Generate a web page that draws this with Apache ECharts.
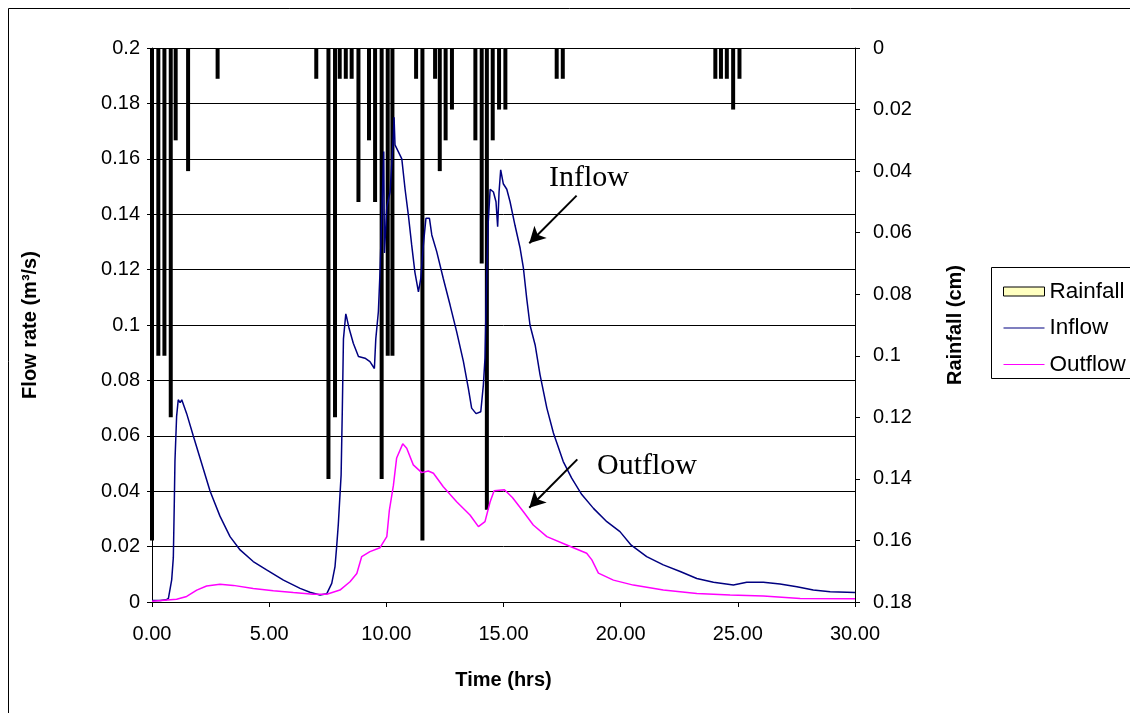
<!DOCTYPE html>
<html>
<head>
<meta charset="utf-8">
<script src="https://cdn.jsdelivr.net/npm/echarts@6/dist/echarts.min.js"></script>
<style>
html,body{margin:0;padding:0;background:#fff;}
#chart{width:1130px;height:713px;}
</style>
</head>
<body>
<div id="chart"></div>
<script>
// ---- Data ----
var rainTime  = [0.0, 0.27, 0.53, 0.80, 1.01, 1.54, 2.80, 7.01, 7.53, 7.81, 8.01, 8.27, 8.52, 8.81, 9.26, 9.52, 9.80, 10.06, 10.26, 11.27, 11.54, 12.08, 12.28, 12.53, 12.80, 13.80, 14.07, 14.29, 14.54, 14.81, 15.08, 17.27, 17.53, 24.04, 24.28, 24.53, 24.80, 25.07];
var rainDepth = [0.16, 0.10, 0.10, 0.12, 0.03, 0.04, 0.01, 0.01, 0.14, 0.12, 0.01, 0.01, 0.01, 0.05, 0.03, 0.05, 0.14, 0.10, 0.10, 0.01, 0.16, 0.01, 0.04, 0.03, 0.02, 0.03, 0.07, 0.15, 0.03, 0.02, 0.02, 0.01, 0.01, 0.01, 0.01, 0.01, 0.02, 0.01];

var inflowTime = [0.00, 0.35, 0.60, 0.70, 0.84, 0.91, 0.95, 0.98, 1.05, 1.12, 1.20, 1.27, 1.48, 1.76, 2.12, 2.48, 2.90, 3.33, 3.76, 4.32, 4.89, 5.61, 6.32, 6.74, 7.17, 7.46, 7.67, 7.81, 7.88, 7.95, 8.07, 8.12, 8.17, 8.27, 8.30, 8.41, 8.59, 8.81, 9.09, 9.30, 9.49, 9.55, 9.66, 9.73, 9.80, 9.89, 9.92, 10.02, 10.16, 10.30, 10.33, 10.37, 10.51, 10.66, 10.80, 10.94, 11.08, 11.22, 11.37, 11.47, 11.58, 11.69, 11.84, 11.94, 12.15, 12.43, 12.72, 13.00, 13.29, 13.50, 13.64, 13.83, 14.03, 14.14, 14.21, 14.28, 14.35, 14.43, 14.57, 14.68, 14.75, 14.81, 14.88, 14.99, 15.14, 15.28, 15.49, 15.71, 15.85, 15.99, 16.13, 16.35, 16.56, 16.85, 17.13, 17.55, 17.91, 18.34, 18.84, 19.41, 19.97, 20.45, 21.11, 21.82, 22.54, 23.25, 23.96, 24.81, 25.38, 26.09, 26.80, 27.52, 28.22, 28.94, 30.00];
var inflowQ = [0.0005, 0.0005, 0.0008, 0.0013, 0.008, 0.016, 0.035, 0.051, 0.067, 0.073, 0.072, 0.073, 0.068, 0.060, 0.050, 0.040, 0.031, 0.0236, 0.0188, 0.0146, 0.0116, 0.0079, 0.0049, 0.0035, 0.0025, 0.003, 0.0067, 0.0128, 0.020, 0.028, 0.0458, 0.0687, 0.095, 0.104, 0.103, 0.0988, 0.0934, 0.0886, 0.088, 0.0868, 0.0843, 0.095, 0.1048, 0.119, 0.1385, 0.1626, 0.126, 0.1426, 0.148, 0.168, 0.175, 0.165, 0.1626, 0.160, 0.149, 0.1397, 0.129, 0.119, 0.112, 0.1168, 0.129, 0.1385, 0.1385, 0.1325, 0.1265, 0.1168, 0.1072, 0.0976, 0.0868, 0.0771, 0.070, 0.068, 0.0687, 0.0783, 0.088, 0.1168, 0.1373, 0.149, 0.148, 0.1445, 0.1355, 0.148, 0.156, 0.151, 0.149, 0.1445, 0.136, 0.1277, 0.1205, 0.1096, 0.100, 0.0928, 0.082, 0.070, 0.061, 0.0507, 0.0447, 0.0388, 0.0338, 0.029, 0.0254, 0.0205, 0.0164, 0.0134, 0.011, 0.0085, 0.0071, 0.0061, 0.0071, 0.0071, 0.0065, 0.0055, 0.0043, 0.0037, 0.0034];

var outflowTime = [0.00, 1.05, 1.48, 1.91, 2.33, 2.90, 3.47, 4.32, 5.18, 6.03, 6.88, 7.46, 8.02, 8.45, 8.74, 8.95, 9.30, 9.73, 10.02, 10.13, 10.30, 10.44, 10.70, 10.87, 11.15, 11.51, 11.79, 12.01, 12.43, 13.00, 13.57, 13.93, 14.21, 14.43, 14.60, 15.04, 15.38, 15.85, 16.27, 16.85, 17.70, 18.55, 18.77, 19.05, 19.69, 20.54, 21.82, 23.25, 24.67, 26.09, 27.66, 30.00];
var outflowQ = [0.0003, 0.001, 0.002, 0.0043, 0.0058, 0.0064, 0.006, 0.0049, 0.0041, 0.0034, 0.0028, 0.0028, 0.0043, 0.0073, 0.0103, 0.0164, 0.0182, 0.0196, 0.0236, 0.0332, 0.042, 0.052, 0.0571, 0.0555, 0.0495, 0.0467, 0.0473, 0.0465, 0.0416, 0.0362, 0.0314, 0.0272, 0.029, 0.0362, 0.0402, 0.0405, 0.0377, 0.0326, 0.0278, 0.0236, 0.0206, 0.0176, 0.0152, 0.0104, 0.0079, 0.0061, 0.0043, 0.0031, 0.0025, 0.0022, 0.0013, 0.0012];

var xTickLabels = ['0.00', '5.00', '10.00', '15.00', '20.00', '25.00', '30.00'];
var leftTickLabels = ['0', '0.02', '0.04', '0.06', '0.08', '0.1', '0.12', '0.14', '0.16', '0.18', '0.2'];
var rightTickLabels = ['0', '0.02', '0.04', '0.06', '0.08', '0.1', '0.12', '0.14', '0.16', '0.18'];

// annotation anchors in data coordinates (time, flow)
var inflowArrow = [[18.12, 0.1467], [16.10, 0.1295]];
var outflowArrow = [[18.15, 0.0515], [16.10, 0.0340]];
var inflowLabelPos = [16.94, 0.1530];
var outflowLabelPos = [18.99, 0.0490];

function zip(a, b) { return a.map(function (v, i) { return [v, b[i]]; }); }

var FONT = 'Liberation Sans, Arial, sans-serif';
var chart = echarts.init(document.getElementById('chart'), null, {renderer: 'canvas'});

var option = {
  animation: false,
  backgroundColor: '#fff',
  grid: {left: 152, right: 275, top: 48, bottom: 111, containLabel: false},
  legend: {
    orient: 'vertical',
    left: 1003, top: 279.5, padding: 0,
    itemWidth: 41, itemHeight: 9, itemGap: 12.5,
    textStyle: {fontFamily: FONT, fontSize: 22.5, color: '#000', lineHeight: 24},
    data: [
      {name: 'Rainfall', icon: 'rect', itemStyle: {color: '#ffffc0', borderColor: '#000', borderWidth: 1}},
      {name: 'Inflow', icon: 'path://M0,0 L41,0 L41,1 L0,1 Z', itemStyle: {color: '#000080'}},
      {name: 'Outflow', icon: 'path://M0,0 L41,0 L41,1 L0,1 Z', itemStyle: {color: '#ff00ff'}}
    ]
  },
  xAxis: {
    type: 'value', min: 0, max: 30, interval: 5,
    name: 'Time (hrs)', nameLocation: 'middle', nameGap: 68,
    nameTextStyle: {fontFamily: FONT, fontSize: 20, fontWeight: 'bold', color: '#000'},
    axisLine: {show: true, onZero: false, lineStyle: {color: '#000', width: 1}},
    axisTick: {show: true, length: 5, lineStyle: {color: '#000'}},
    axisLabel: {margin: 22, fontFamily: FONT, fontSize: 20, color: '#000',
      formatter: function (v) { return xTickLabels[Math.round(v / 5)]; }},
    splitLine: {show: false}
  },
  yAxis: [
    {
      type: 'value', min: 0, max: 0.2, interval: 0.02, position: 'left',
      name: 'Flow rate (m³/s)', nameLocation: 'middle', nameGap: 112, nameRotate: 90,
      nameTextStyle: {fontFamily: FONT, fontSize: 20, fontWeight: 'bold', color: '#000'},
      axisLine: {show: true, lineStyle: {color: '#000', width: 1}},
      axisTick: {show: true, length: 5, lineStyle: {color: '#000'}},
      axisLabel: {margin: 12, fontFamily: FONT, fontSize: 20, color: '#000',
        formatter: function (v) { return leftTickLabels[Math.round(v / 0.02)]; }},
      splitLine: {show: true, lineStyle: {color: '#000', width: 1}}
    },
    {
      type: 'value', min: 0, max: 0.18, interval: 0.02, position: 'right', inverse: true,
      name: 'Rainfall (cm)', nameLocation: 'middle', nameGap: 90, nameRotate: 90,
      nameTextStyle: {fontFamily: FONT, fontSize: 20, fontWeight: 'bold', color: '#000'},
      axisLine: {show: true, lineStyle: {color: '#000', width: 1}},
      axisTick: {show: true, length: 5, lineStyle: {color: '#000'}},
      axisLabel: {margin: 18, fontFamily: FONT, fontSize: 20, color: '#000',
        formatter: function (v) { return rightTickLabels[Math.round(v / 0.02)]; }},
      splitLine: {show: false}
    }
  ],
  series: [
    {
      name: 'Rainfall', type: 'bar', yAxisIndex: 1, barWidth: 4, clip: false,
      itemStyle: {color: '#000'},
      data: zip(rainTime, rainDepth), z: 2
    },
    {
      name: 'Inflow', type: 'line', yAxisIndex: 0, symbol: 'none', showSymbol: false,
      lineStyle: {color: '#000080', width: 1.5}, itemStyle: {color: '#000080'},
      data: zip(inflowTime, inflowQ), z: 3,
      markLine: {
        silent: true, symbol: ['none', 'arrow'], symbolSize: [13, 16],
        lineStyle: {color: '#000', width: 2, type: 'solid'},
        label: {show: false},
        data: [
          [{coord: inflowArrow[0]}, {coord: inflowArrow[1]}],
          [{coord: outflowArrow[0]}, {coord: outflowArrow[1]}]
        ]
      }
    },
    {
      name: 'Outflow', type: 'line', yAxisIndex: 0, symbol: 'none', showSymbol: false,
      lineStyle: {color: '#ff00ff', width: 1.5}, itemStyle: {color: '#ff00ff'},
      data: zip(outflowTime, outflowQ), z: 3
    }
  ]
};
chart.setOption(option);

var pIn = chart.convertToPixel({gridIndex: 0}, inflowLabelPos);
var pOut = chart.convertToPixel({gridIndex: 0}, outflowLabelPos);
chart.setOption({
  graphic: [
    {type: 'rect', silent: true, shape: {x: 8.5, y: 8.5, width: 1300, height: 900},
      style: {fill: 'none', stroke: '#000', lineWidth: 1}, z: 0},
    {type: 'rect', silent: true, shape: {x: 991.5, y: 267.5, width: 300, height: 111},
      style: {fill: 'none', stroke: '#000', lineWidth: 1}, z: 10},
    {type: 'text', silent: true, x: pIn[0], y: pIn[1],
      style: {text: 'Inflow', font: '30px "Liberation Serif", "Times New Roman", serif', fill: '#000', textAlign: 'left', textVerticalAlign: 'middle'}, z: 10},
    {type: 'text', silent: true, x: pOut[0], y: pOut[1],
      style: {text: 'Outflow', font: '30px "Liberation Serif", "Times New Roman", serif', fill: '#000', textAlign: 'left', textVerticalAlign: 'middle'}, z: 10}
  ]
});
</script>
</body>
</html>
